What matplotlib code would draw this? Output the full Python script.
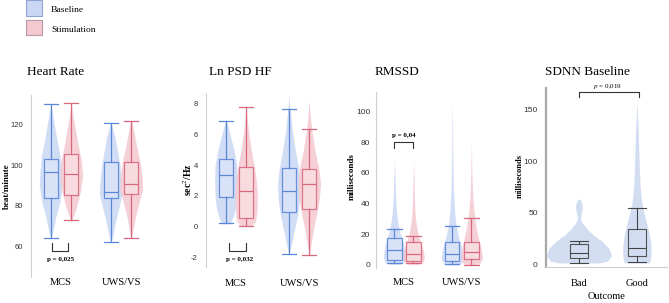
import numpy as np
import matplotlib
matplotlib.use("Agg")
import matplotlib.pyplot as plt
from matplotlib.patches import Rectangle

plt.rcParams["axes.unicode_minus"] = False
plt.rcParams["mathtext.fontset"] = "stix"

# ---- data ----
groups = ["MCS", "UWS/VS"]
outcome_groups = ["Bad", "Good"]

# box stats: [whislo, q1, median, q3, whishi]
hr_base = [[64.5, 84.0, 96.5, 103.0, 130.0], [62.5, 84.0, 87.0, 101.5, 120.5]]
hr_stim = [[73.0, 85.5, 95.5, 105.5, 130.5], [64.5, 86.0, 90.5, 101.5, 121.5]]
hf_base = [[0.22, 1.94, 3.33, 4.37, 6.85], [-1.76, 0.99, 2.32, 3.83, 7.66]]
hf_stim = [[0.06, 0.56, 2.32, 3.87, 7.74], [-1.81, 1.16, 2.75, 3.72, 6.37]]
rm_base = [[1.5, 3.3, 9.6, 17.4, 23.3], [0.7, 2.8, 7.2, 14.8, 25.4]]
rm_stim = [[1.5, 2.6, 7.2, 14.8, 19.1], [0.0, 3.7, 8.3, 14.8, 30.6]]
sdnn = [[1.0, 5.5, 10.5, 19.5, 22.5], [2.0, 8.0, 15.5, 34.0, 54.5]]

# violin outlines: (value, relative width)
hr_vb = [
    ([64, 68, 75, 82, 90, 97, 105, 112, 120, 126, 130], [0, .2, .45, .8, 1, .95, .8, .55, .3, .12, 0]),
    ([62, 66, 72, 80, 86, 92, 100, 108, 114, 118, 121], [0, .2, .4, .75, 1, .95, .8, .55, .35, .15, 0]),
]
hr_vs = [
    ([72, 75, 80, 88, 95, 102, 110, 118, 124, 128, 131], [0, .2, .5, .85, 1, .9, .6, .35, .15, .06, 0]),
    ([64, 68, 74, 82, 88, 95, 102, 110, 116, 120, 122], [0, .15, .35, .7, 1, .95, .75, .45, .25, .1, 0]),
]
hf_vb = [
    ([0.2, 0.6, 1.2, 2.0, 3.0, 4.0, 5.0, 6.0, 6.6, 6.9], [.35, .6, .85, .95, 1, .95, .7, .35, .15, 0]),
    ([-1.8, -1.2, -0.3, 0.7, 1.8, 2.8, 3.8, 5.0, 6.2, 7.3, 8.0, 8.5], [0, .2, .45, .75, .95, 1, .85, .55, .3, .15, .05, 0]),
]
hf_vs = [
    ([0.05, 0.4, 1.0, 2.0, 3.0, 4.0, 5.0, 6.0, 7.0, 7.8], [.5, .85, .95, 1, .9, .7, .45, .25, .1, 0]),
    ([-1.8, -1.2, -0.3, 0.8, 1.8, 2.8, 3.8, 5.0, 6.2, 7.2, 8.2], [0, .15, .35, .65, .9, 1, .85, .5, .25, .1, 0]),
]
rm_vb = [
    ([0.5, 2, 5, 9, 14, 20, 26, 34, 45, 58, 70], [.5, .85, 1, .95, .8, .55, .35, .2, .1, .05, 0]),
    ([0, 1, 4, 8, 13, 19, 26, 36, 50, 70, 90, 106], [.4, .8, 1, .95, .8, .55, .35, .2, .1, .05, .03, 0]),
]
rm_vs = [
    ([0.5, 2, 5, 9, 14, 19, 25, 33, 45, 58, 68], [.5, .9, 1, .9, .7, .45, .28, .15, .08, .04, 0]),
    ([0, 1, 4, 8, 13, 19, 26, 34, 45, 60, 81], [.4, .75, 1, .95, .8, .6, .4, .25, .12, .05, 0]),
]
sd_v = [
    ([1, 3, 8, 15, 22, 28, 34, 40, 44, 48, 53, 58, 62, 63.5], [.62, .88, 1, .93, .72, .45, .25, .1, .05, .06, .1, .1, .06, 0]),
    ([1, 4, 10, 20, 30, 40, 50, 60, 75, 90, 110, 130, 158], [.37, .42, .44, .43, .38, .3, .22, .15, .1, .08, .06, .04, 0]),
]

BLUE_FILL = "#c9d6f4"
BLUE_BOX = "#dbe4f8"
BLUE_LINE = "#5b87d8"
RED_FILL = "#f4c9d0"
RED_BOX = "#f8dde1"
RED_LINE = "#d8697d"
GREY_VIOLIN = "#cbd7f0"

W, H = 669, 303
fig = plt.figure(figsize=(W / 100, H / 100), dpi=100)
serif = "Liberation Serif"


def px_axes(x0, x1, y0, y1):
    return fig.add_axes([x0 / W, 1 - y1 / H, (x1 - x0) / W, (y1 - y0) / H])


def violin(ax, pos, vals, rel, half, color):
    v = np.array(vals, dtype=float)
    r = np.array(rel, dtype=float) * half
    ax.fill_betweenx(v, pos - r, pos + r, color=color, lw=0, alpha=0.85, zorder=1)


def boxes(ax, pos, stats, width, face, line, lw=0.9):
    st = [dict(whislo=s[0], q1=s[1], med=s[2], q3=s[3], whishi=s[4]) for s in stats]
    ax.bxp(st, positions=pos, widths=width, capwidths=width, showfliers=False,
           patch_artist=True, manage_ticks=False,
           boxprops=dict(facecolor=face, edgecolor=line, lw=lw, alpha=0.9),
           medianprops=dict(color=line, lw=lw),
           whiskerprops=dict(color=line, lw=lw),
           capprops=dict(color=line, lw=lw))


def style(ax, xlim, ylim, ticks, xpad, spine_col="#cfcfcf", spine_lw=0.8, tick_fs=5.5, ypad=6):
    ax.set_xlim(xlim)
    ax.set_ylim(ylim)
    ax.set_yticks(ticks)
    for s in ["top", "right", "bottom"]:
        ax.spines[s].set_visible(False)
    ax.spines["left"].set_color(spine_col)
    ax.spines["left"].set_linewidth(spine_lw)
    ax.tick_params(axis="y", length=0, labelsize=tick_fs, labelcolor="#333333", pad=ypad)
    ax.tick_params(axis="x", length=0, labelsize=7.5, pad=xpad)
    for t in ax.get_yticklabels():
        t.set_family("Liberation Sans")
    ax.set_facecolor("none")


def paired_panel(ax, vb, vs, sb, ss, off, half, bw):
    for i in range(2):
        violin(ax, i + 1 - off, vb[i][0], vb[i][1], half, BLUE_FILL)
        violin(ax, i + 1 + off, vs[i][0], vs[i][1], half, RED_FILL)
    boxes(ax, [1 - off, 2 - off], sb, bw, BLUE_BOX, BLUE_LINE)
    boxes(ax, [1 + off, 2 + off], ss, bw, RED_BOX, RED_LINE)
    ax.set_xticks([1, 2])
    ax.set_xticklabels(groups, family=serif)


# ---- Heart Rate ----
ax1 = px_axes(31, 160, 95, 277)
paired_panel(ax1, hr_vb, hr_vs, hr_base, hr_stim, 0.17, 0.19, 0.23)
style(ax1, (0.5, 2.65), (45.2, 134.3), [60, 80, 100, 120], xpad=1)
ax1.set_ylabel("beat/minute", family=serif, fontweight="bold", fontsize=6.5)
ax1.yaxis.set_label_coords(-0.155, 0.5)
ax1.plot([0.85, 0.85, 1.12, 1.12], [61.8, 57.9, 57.9, 61.8], color="#333333", lw=0.8)
ax1.text(0.99, 54.0, "p = 0,025", family=serif, fontweight="bold", fontsize=5, ha="center", va="center")
fig.text(27 / W, 1 - 72 / H, "Heart Rate", family=serif, fontsize=9.5, va="center")

# ---- Ln PSD HF ----
ax2 = px_axes(206, 335, 93, 267)
paired_panel(ax2, hf_vb, hf_vs, hf_base, hf_stim, 0.16, 0.18, 0.23)
style(ax2, (0.524, 2.57), (-2.6, 8.67), [-2, 0, 2, 4, 6, 8], xpad=8.3)
ax2.set_ylabel("sec$^2$/Hz", family=serif, fontweight="bold", fontsize=7)
ax2.yaxis.set_label_coords(-0.093, 0.5)
ax2.plot([0.894, 0.894, 1.154, 1.154], [-1.07, -1.57, -1.57, -1.07], color="#333333", lw=0.8)
ax2.text(1.06, -2.12, "p = 0,032", family=serif, fontweight="bold", fontsize=5, ha="center", va="center")
fig.text(209 / W, 1 - 72 / H, "Ln PSD HF", family=serif, fontsize=9.5, va="center")

# ---- RMSSD ----
ax3 = px_axes(376, 500, 92, 268)
paired_panel(ax3, rm_vb, rm_vs, rm_base, rm_stim, 0.165, 0.19, 0.25)
style(ax3, (0.517, 2.66), (-1.96, 112.8), [0, 20, 40, 60, 80, 100], xpad=7.5, tick_fs=6, ypad=4)
ax3.set_ylabel("milliseconds", family=serif, fontweight="bold", fontsize=6.5)
ax3.yaxis.set_label_coords(-0.161, 0.52)
ax3.plot([0.835, 0.835, 1.15, 1.15], [76.3, 80, 80, 76.3], color="#333333", lw=0.8)
ax3.text(1.0, 84.5, "p = 0,04", family=serif, fontweight="bold", fontsize=5, ha="center", va="center")
fig.text(375 / W, 1 - 72 / H, "RMSSD", family=serif, fontsize=9.5, va="center")

# ---- SDNN Baseline ----
ax4 = px_axes(546, 667, 88, 267)
for i in range(2):
    violin(ax4, i + 1, sd_v[i][0], sd_v[i][1], 0.56, GREY_VIOLIN)
boxes(ax4, [1, 2], sdnn, 0.3, "none", "#444444", lw=0.8)
style(ax4, (0.431, 2.52), (-2.9, 171.4), [0, 50, 100, 150], xpad=8.3,
      spine_col="#a8a8a8", spine_lw=1.6, tick_fs=6)
ax4.spines["bottom"].set_visible(True)
ax4.spines["bottom"].set_color("#cfcfcf")
ax4.spines["bottom"].set_linewidth(0.8)
ax4.set_xticks([1, 2])
ax4.set_xticklabels(outcome_groups, family=serif)
ax4.set_ylabel("milliseconds", family=serif, fontweight="bold", fontsize=6)
ax4.yaxis.set_label_coords(-0.182, 0.51)
ax4.set_xlabel("Outcome", family=serif, fontsize=7.5, labelpad=3)
ax4.plot([1.0, 1.0, 2.03, 2.03], [162.5, 167.5, 167.5, 162.5], color="#333333", lw=0.8, clip_on=False)
ax4.text(1.5, 172.5, "$p$ = 0,019", family=serif, fontsize=5, ha="center", va="center")
fig.text(545 / W, 1 - 72 / H, "SDNN Baseline", family=serif, fontsize=9.5, va="center")

# ---- legend ----
fig.patches.append(Rectangle((26 / W, 1 - 16 / H), 16 / W, 16 / H, transform=fig.transFigure,
                             facecolor=BLUE_FILL, edgecolor="#8ea5d6", lw=0.8))
fig.patches.append(Rectangle((26 / W, 1 - 35 / H), 16 / W, 15 / H, transform=fig.transFigure,
                             facecolor=RED_FILL, edgecolor="#b89aa8", lw=0.8))
fig.text(51 / W, 1 - 9.5 / H, "Baseline", family=serif, fontsize=6.8, va="center")
fig.text(51 / W, 1 - 29.5 / H, "Stimulation", family=serif, fontsize=6.8, va="center")

fig.savefig("out.png", dpi=100, facecolor="white")
